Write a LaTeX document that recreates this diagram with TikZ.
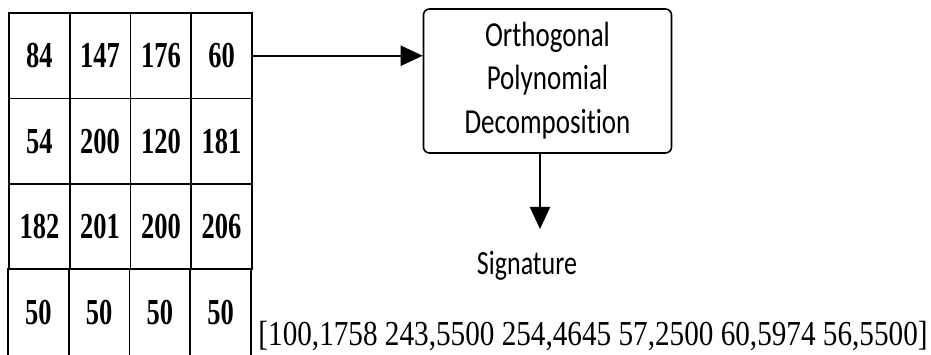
\documentclass[tikz,border=0pt]{standalone}
\usepackage{fontspec}
\setmainfont{Liberation Serif}
\newfontfamily\calib[Ligatures=NoCommon]{Carlito}
\usetikzlibrary{arrows.meta,positioning}

\tikzset{
	cell/.style={draw, line width=1.6pt, minimum width=60.75pt, minimum height=85.5pt, inner sep=0pt,
		font=\fontsize{26.5}{30}\selectfont\bfseries},
	lastcell/.style={cell, minimum height=92pt},
	proc/.style={draw, line width=1.6pt, rounded corners=6pt, minimum width=248pt, minimum height=144pt, inner sep=0pt},
	flow/.style={line width=2.2pt, -{Triangle[length=22pt,width=20pt]}}
}
\newcommand{\tallnum}[1]{\scalebox{1}[1.38]{#1}}
\newcommand{\talltxt}[1]{\scalebox{1}[1.3]{#1}}

\begin{document}
\begin{tikzpicture}[x=1pt,y=-1pt]
		\useasboundingbox (0,0) rectangle (931,355);
		% image block
		\node[cell] (c11) at (39.4,55.75) {\tallnum{84}};
		\node[cell] (c12) at (100.1,55.75) {\tallnum{147}};
		\node[cell] (c13) at (160.9,55.75) {\tallnum{176}};
		\node[cell] (c14) at (221.6,55.75) {\tallnum{60}};
		
		\node[cell] (c21) at (39.4,141.25) {\tallnum{54}};
		\node[cell] (c22) at (100.1,141.25) {\tallnum{200}};
		\node[cell] (c23) at (160.9,141.25) {\tallnum{120}};
		\node[cell] (c24) at (221.6,141.25) {\tallnum{181}};
		
		\node[cell] (c31) at (39.4,226.75) {\tallnum{182}};
		\node[cell] (c32) at (100.1,226.75) {\tallnum{201}};
		\node[cell] (c33) at (160.9,226.75) {\tallnum{200}};
		\node[cell] (c34) at (221.6,226.75) {\tallnum{206}};
		
		% last row runs off the bottom edge
		\node[lastcell] (c41) at (38.4,315) {\raisebox{6pt}{\tallnum{50}}};
		\node[lastcell] (c42) at (99.1,315) {\raisebox{6pt}{\tallnum{50}}};
		\node[lastcell] (c43) at (159.9,315) {\raisebox{6pt}{\tallnum{50}}};
		\node[lastcell] (c44) at (220.6,315) {\raisebox{6pt}{\tallnum{50}}};
		
		% decomposition
		\node[proc] (opd) at (547.5,81) {\raisebox{-5pt}{\talltxt{\calib\fontsize{27}{33.5}\selectfont
			\begin{tabular}{@{}c@{}}Orthogonal\\Polynomial\\Decomposition\end{tabular}}}};
		\coordinate (sigtop) at (540,229);
		\node[anchor=base, font=\calib\fontsize{26}{30}\selectfont] (sig) at (527,274) {\talltxt{Signature}};
		\node[anchor=base, font=\fontsize{29.2}{32}\selectfont] (vec) at (593,345)
			{\scalebox{1}[1.2]{[100,1758 243,5500 254,4645 57,2500 60,5974 56,5500]}};
		
		\draw[flow] (c14.east) -- (c14.east -| opd.west);
		\draw[flow] (opd.south -| sigtop) -- (sigtop);
		\end{tikzpicture}
\end{document}
